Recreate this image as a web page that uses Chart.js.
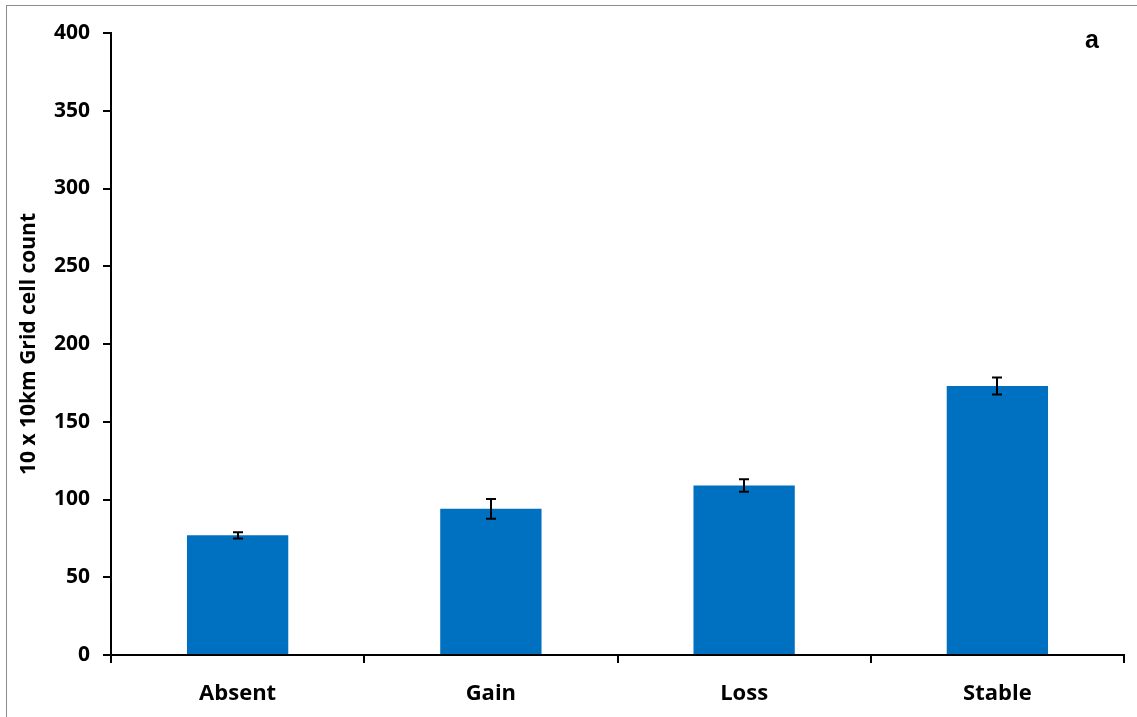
<!DOCTYPE html>
<html>
<head>
<meta charset="utf-8">
<script src="https://cdn.jsdelivr.net/npm/chart.js@4.4.0/dist/chart.umd.min.js"></script>
<style>
  html, body { margin: 0; padding: 0; background: #fff; }
  #wrap { position: relative; width: 1137px; height: 717px; overflow: hidden; }
  #frame { position: absolute; left: 6px; top: 5px; width: 1200px; height: 800px;
           border-left: 1px solid #8c8c8c; border-top: 1px solid #8c8c8c; }
  #panel { position: absolute; left: 1085px; top: 25px; font: bold 25px "Liberation Sans", Arial, sans-serif; color: #000; }
  canvas { position: absolute; left: 0; top: 0; }
</style>
</head>
<body>
<div id="wrap">
  <div id="frame"></div>
  <canvas id="grafik" width="1137" height="717"></canvas>
  <div id="panel">a</div>
</div>
<script>
// kategori perubahan sel grid dan nilainya
const kategori = ['Absent', 'Gain', 'Loss', 'Stable'];
const jumlahSel = [77, 94, 109, 173];
const galat = [2, 6.3, 4, 5.5];
const tickY = [0, 50, 100, 150, 200, 250, 300, 350, 400];

const hurufDasar = '"Open Sans", "Noto Sans", sans-serif';

// plugin kecil untuk menggambar error bar di atas batang
const errorBar = {
  id: 'errorBar',
  afterDatasetsDraw(chart) {
    const ctx = chart.ctx;
    const y = chart.scales.y;
    const meta = chart.getDatasetMeta(0);
    ctx.save();
    ctx.strokeStyle = '#000';
    ctx.lineWidth = 2;
    meta.data.forEach((bar, i) => {
      const atas = y.getPixelForValue(jumlahSel[i] + galat[i]);
      const bawah = y.getPixelForValue(jumlahSel[i] - galat[i]);
      const x = Math.round(bar.x);
      ctx.beginPath();
      ctx.moveTo(x, atas);
      ctx.lineTo(x, bawah);
      ctx.moveTo(x - 5, atas);
      ctx.lineTo(x + 5, atas);
      ctx.moveTo(x - 5, bawah);
      ctx.lineTo(x + 5, bawah);
      ctx.stroke();
    });
    ctx.restore();
  }
};

new Chart(document.getElementById('grafik'), {
  type: 'bar',
  data: {
    labels: kategori,
    datasets: [{
      data: jumlahSel,
      backgroundColor: '#0070c0',
      barPercentage: 0.4,
      categoryPercentage: 1
    }]
  },
  options: {
    responsive: false,
    animation: false,
    layout: { padding: { left: 0, right: 13, top: 33, bottom: 0 } },
    plugins: {
      legend: { display: false },
      tooltip: { enabled: false }
    },
    scales: {
      x: {
        afterFit(scale) { scale.height = 62; },
        border: { color: '#000', width: 2 },
        grid: { drawOnChartArea: false, color: '#000', lineWidth: 2, tickLength: 8 },
        ticks: { color: '#000', font: { family: hurufDasar, size: 22, weight: 'bold' }, padding: 18 }
      },
      y: {
        min: 0,
        max: 400,
        afterFit(scale) { scale.width = 111; },
        afterBuildTicks(scale) { scale.ticks = tickY.map(v => ({ value: v })); },
        border: { color: '#000', width: 2 },
        grid: { drawOnChartArea: false, color: '#000', lineWidth: 2, tickLength: 8 },
        ticks: { color: '#000', font: { family: hurufDasar, size: 21, weight: 'bold' }, padding: 13 },
        title: {
          display: true,
          text: '10 x 10km Grid cell count',
          color: '#000',
          font: { family: hurufDasar, size: 21, weight: 'bold' },
          padding: { top: 16, bottom: 0 }
        }
      }
    }
  },
  plugins: [errorBar]
});
</script>
</body>
</html>
